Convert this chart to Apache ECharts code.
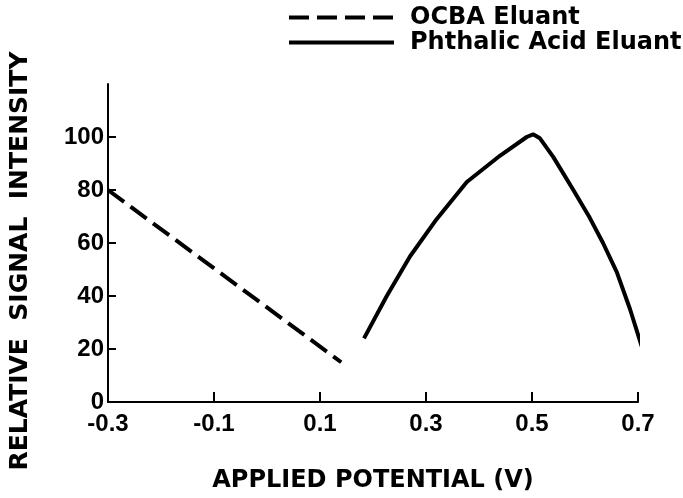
<!DOCTYPE html>
<html>
<head>
<meta charset="utf-8">
<script src="https://cdn.jsdelivr.net/npm/echarts@6/dist/echarts.min.js"></script>
<style>
  html, body { margin: 0; padding: 0; background: #fff; }
  #chart { width: 683px; height: 498px; }
</style>
</head>
<body>
<div id="chart"></div>
<script>
// values
var ocbaX = [-0.3, 0.14];
var ocbaY = [80, 15];
var phthalicX = [0.183, 0.226, 0.270, 0.320, 0.377, 0.440, 0.490, 0.502, 0.515, 0.540, 0.578, 0.609, 0.634, 0.660, 0.685, 0.707];
var phthalicY = [24, 40, 55, 69, 83, 93, 100, 101, 99.5, 92.5, 80, 69.5, 60, 49, 35, 21];
var xTicks = [-0.3, -0.1, 0.1, 0.3, 0.5, 0.7];
var yTicks = [0, 20, 40, 60, 80, 100];
var seriesNames = ['OCBA Eluant', 'Phthalic Acid Eluant'];

function zip(xs, ys) {
  return xs.map(function (x, i) { return [x, ys[i]]; });
}

var labelFont = 'Liberation Sans, Arial, sans-serif';
var titleFont = 'DejaVu Sans, sans-serif';

var myChart = echarts.init(document.getElementById('chart'));
var option = {
  animation: false,
  backgroundColor: '#fff',
  grid: { left: 108, right: 45, top: 84, bottom: 94 },
  legend: {
    orient: 'vertical',
    left: 282,
    top: 0,
    itemWidth: 105,
    itemHeight: 14,
    itemGap: 0,
    selectedMode: false,
    data: seriesNames,
    itemStyle: { opacity: 0 },
    lineStyle: { width: 4 },
    textStyle: {
      fontFamily: titleFont,
      fontWeight: 'bold',
      fontSize: 24,
      lineHeight: 25,
      color: '#000',
      padding: [0, 0, 0, 11]
    }
  },
  xAxis: {
    type: 'value',
    min: -0.3,
    max: 0.7,
    name: 'APPLIED POTENTIAL (V)',
    nameLocation: 'middle',
    nameGap: 67,
    nameTextStyle: { fontFamily: titleFont, fontWeight: 'bold', fontSize: 24, color: '#000' },
    splitLine: { show: false },
    axisLine: { onZero: false, lineStyle: { color: '#000', width: 2 } },
    axisTick: { inside: true, length: 10, lineStyle: { color: '#000', width: 2 }, customValues: xTicks },
    axisLabel: {
      customValues: xTicks,
      margin: 10,
      fontFamily: labelFont, fontWeight: 'bold', fontSize: 24, color: '#000',
      formatter: function (v) { return v.toFixed(1); }
    }
  },
  yAxis: {
    type: 'value',
    min: 0,
    max: 120,
    splitLine: { show: false },
    axisLine: { show: true, onZero: false, lineStyle: { color: '#000', width: 2 } },
    axisTick: { show: true, inside: true, length: 8, lineStyle: { color: '#000', width: 2 }, customValues: yTicks },
    axisLabel: {
      customValues: yTicks,
      margin: 4,
      fontFamily: labelFont, fontWeight: 'bold', fontSize: 24, color: '#000'
    }
  },
  graphic: [{
    type: 'text',
    x: 20,
    y: 261,
    rotation: Math.PI / 2,
    style: {
      text: 'RELATIVE  SIGNAL  INTENSITY',
      font: 'bold 25px DejaVu Sans, sans-serif',
      fill: '#000',
      textAlign: 'center',
      textVerticalAlign: 'middle'
    }
  }],
  series: [
    {
      name: seriesNames[0],
      type: 'line',
      symbol: 'none',
      data: zip(ocbaX, ocbaY),
      lineStyle: { color: '#000', width: 4, type: [20, 8] },
      itemStyle: { color: '#000' }
    },
    {
      name: seriesNames[1],
      type: 'line',
      symbol: 'none',
      clip: false,
      data: zip(phthalicX, phthalicY),
      lineStyle: { color: '#000', width: 4 },
      itemStyle: { color: '#000' }
    }
  ]
};
myChart.setOption(option);
</script>
</body>
</html>
